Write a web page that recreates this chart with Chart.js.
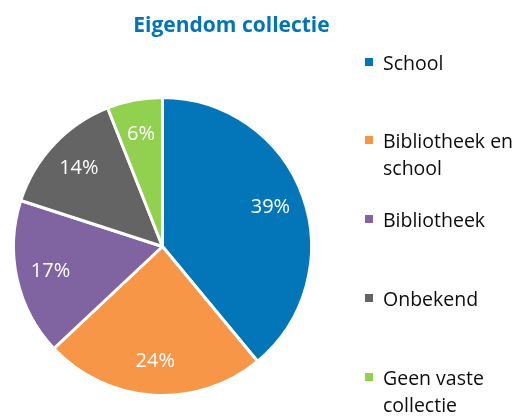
<!DOCTYPE html>
<html>
<head>
<meta charset="utf-8">
<script src="https://cdn.jsdelivr.net/npm/chart.js@4/dist/chart.umd.min.js"></script>
<style>
  html, body { margin: 0; padding: 0; background: #fff; }
  #wrap { position: relative; width: 524px; height: 417px; overflow: hidden; font-family: "Open Sans", sans-serif; }
  #c { position: absolute; left: 0; top: 0; }
  #title { position: absolute; left: 0; width: 463px; top: 9px; text-align: center; font-weight: bold; font-size: 21px; color: #0275B7; line-height: 30px; }
  .item { position: absolute; left: 365px; width: 159px; font-size: 19.5px; line-height: 27px; color: #0d0d0d; }
  .item .sw { position: absolute; left: 0; top: 9px; width: 8px; height: 8px; }
  .item .tx { position: absolute; left: 18px; width: 141px; }
</style>
</head>
<body>
<div id="wrap">
  <canvas id="c" width="524" height="417"></canvas>
  <div id="title"></div>
  <div id="legend"></div>
</div>
<script>
const chartTitle = "Eigendom collectie";
const categories = ["School", "Bibliotheek en school", "Bibliotheek", "Onbekend", "Geen vaste collectie"];
const percentages = [39, 24, 17, 14, 6];
const colors = ["#0276B8", "#F79646", "#8064A2", "#646464", "#92D050"];

document.getElementById('title').textContent = chartTitle;

const legend = document.getElementById('legend');
categories.forEach((name, i) => {
  const d = document.createElement('div');
  d.className = 'item';
  d.style.top = (48.5 + i * 78.75) + 'px';
  const sw = document.createElement('span');
  sw.className = 'sw';
  sw.style.background = colors[i];
  const tx = document.createElement('span');
  tx.className = 'tx';
  tx.textContent = name;
  d.appendChild(sw); d.appendChild(tx);
  legend.appendChild(d);
});

const labelPlugin = {
  id: 'pieLabels',
  afterDatasetsDraw(chart) {
    const ctx = chart.ctx;
    const meta = chart.getDatasetMeta(0);
    ctx.save();
    ctx.fillStyle = '#ffffff';
    ctx.font = '20px "Open Sans", sans-serif';
    ctx.textAlign = 'center';
    ctx.textBaseline = 'middle';
    meta.data.forEach((arc, i) => {
      const p = arc.getProps(['x', 'y', 'startAngle', 'endAngle', 'outerRadius'], true);
      const mid = (p.startAngle + p.endAngle) / 2;
      const r = p.outerRadius * 0.77;
      ctx.fillText(percentages[i] + '%', p.x + Math.cos(mid) * r, p.y + Math.sin(mid) * r);
    });
    ctx.restore();
  }
};

new Chart(document.getElementById('c'), {
  type: 'pie',
  data: {
    labels: categories,
    datasets: [{
      data: percentages,
      backgroundColor: colors,
      borderColor: '#ffffff',
      borderWidth: 3,
      hoverOffset: 0
    }]
  },
  options: {
    responsive: false,
    animation: false,
    events: [],
    layout: { padding: { left: 12, right: 211, top: 96, bottom: 20 } },
    plugins: {
      legend: { display: false },
      title: { display: false },
      tooltip: { enabled: false }
    }
  },
  plugins: [labelPlugin]
});
</script>
</body>
</html>
